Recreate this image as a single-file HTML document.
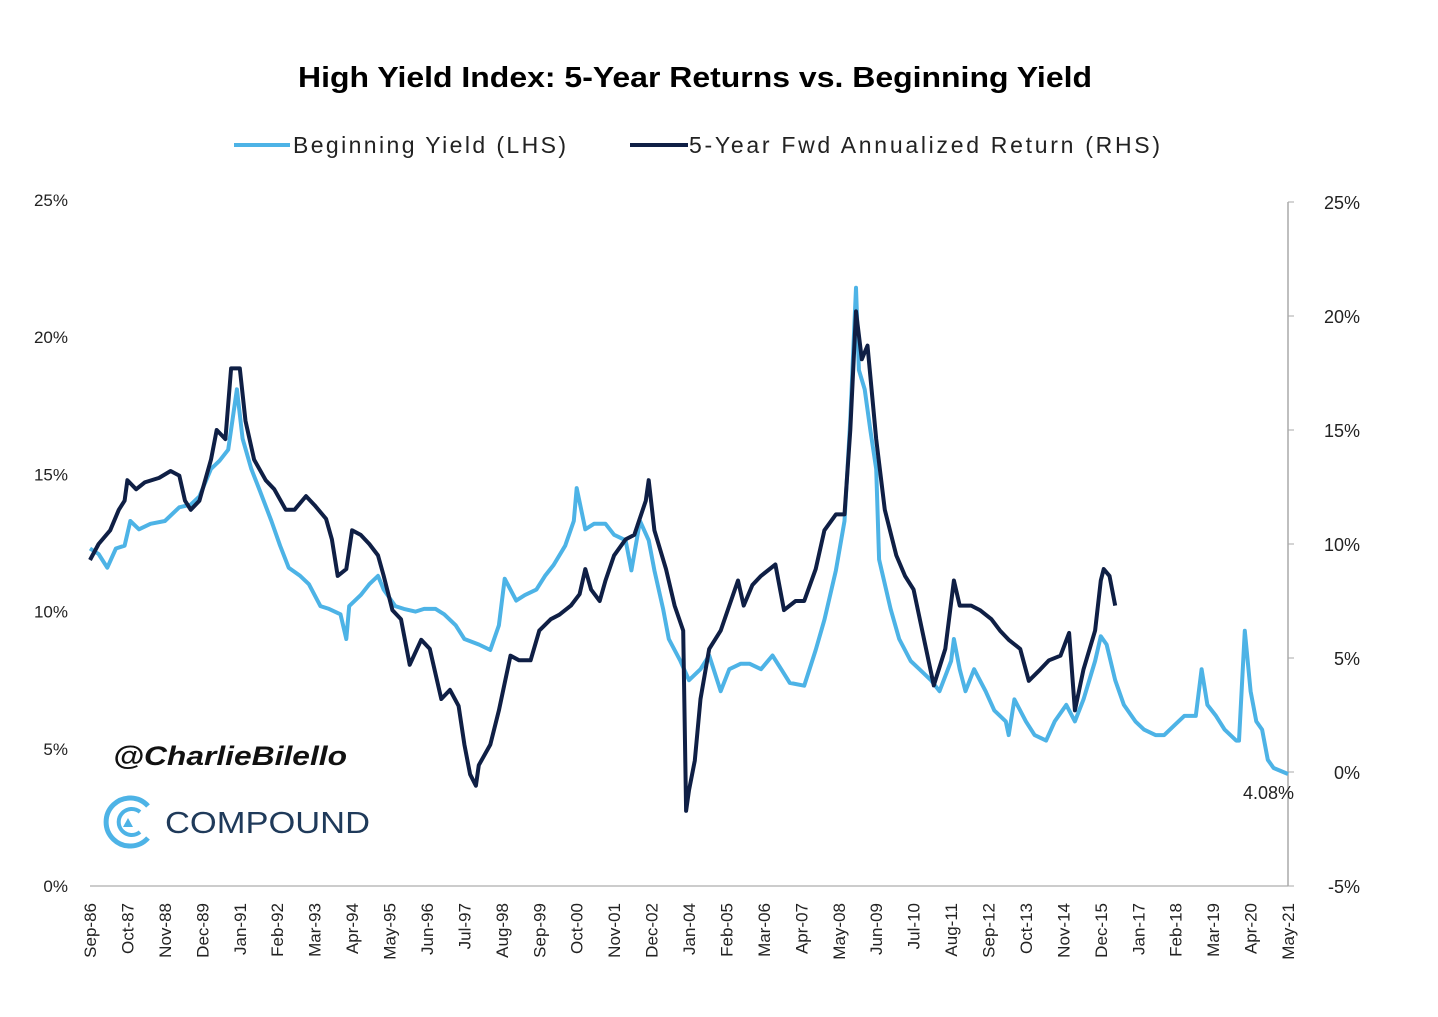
<!DOCTYPE html>
<html><head><meta charset="utf-8"><style>
body{margin:0;background:#fff;font-family:"Liberation Sans",sans-serif}
svg text{font-family:"Liberation Sans",sans-serif}
</style></head><body>
<svg id="chart" width="1438" height="1012" xmlns="http://www.w3.org/2000/svg">
<rect width="1438" height="1012" fill="#fff"/>
<text x="298" y="87" textLength="794" lengthAdjust="spacingAndGlyphs" font-size="29" font-weight="bold" fill="#000">High Yield Index: 5-Year Returns vs. Beginning Yield</text>
<g>
<g><line x1="234" y1="145" x2="290" y2="145" stroke="#4db3e6" stroke-width="4"/><text x="293" y="153" textLength="273" lengthAdjust="spacing" font-size="23" fill="#222">Beginning Yield (LHS)</text></g>
<g><line x1="630" y1="145" x2="688" y2="145" stroke="#0f1f45" stroke-width="4"/><text x="689" y="153" textLength="471" lengthAdjust="spacing" font-size="23" fill="#222">5-Year Fwd Annualized Return (RHS)</text></g>
</g>
<g id="axes"></g>
<g id="series"></g>
<text x="113" y="765" textLength="234" lengthAdjust="spacingAndGlyphs" font-size="27" font-weight="bold" font-style="italic" fill="#111">@CharlieBilello</text>
<g>
<path d="M148 806 A24 24 0 1 0 148 838" fill="none" stroke="#4db3e6" stroke-width="5"/>
<path d="M140 812 A13 13 0 1 0 140 832" fill="none" stroke="#4db3e6" stroke-width="4"/>
<polygon points="128,818 133,827 123,827" fill="#4db3e6"/>
<text x="165" y="833" textLength="205" lengthAdjust="spacingAndGlyphs" font-size="31" fill="#1f3a5a">COMPOUND</text>
</g>
<text x="1243" y="799" font-size="18" fill="#222">4.08%</text>
</svg>
<script>
const xLabels=["Sep-86","Oct-87","Nov-88","Dec-89","Jan-91","Feb-92","Mar-93","Apr-94","May-95","Jun-96","Jul-97","Aug-98","Sep-99","Oct-00","Nov-01","Dec-02","Jan-04","Feb-05","Mar-06","Apr-07","May-08","Jun-09","Jul-10","Aug-11","Sep-12","Oct-13","Nov-14","Dec-15","Jan-17","Feb-18","Mar-19","Apr-20","May-21"];
const leftTicks=[0,5,10,15,20,25];
const rightTicks=[-5,0,5,10,15,20,25];
const yieldMonths=[0,3,6,9,12,14,17,21,26,31,35,38,42,45,48,51,53,56,59,63,66,69,73,76,80,83,87,89,90,94,97,100,102,106,109,113,116,120,123,127,130,135,139,142,144,148,151,155,158,161,165,168,169,172,175,179,182,186,188,191,194,196,199,201,205,208,212,215,219,222,226,229,233,237,240,243,248,252,255,259,262,264,266,267,269,271,273,274,278,281,285,288,292,295,299,300,302,304,307,311,314,318,319,321,325,328,332,335,339,342,345,349,351,353,356,359,363,366,370,373,377,380,384,386,388,391,394,398,399,401,403,405,407,409,411,416];
const yieldValues=[12.3,12.1,11.6,12.3,12.4,13.3,13.0,13.2,13.3,13.8,13.9,14.2,15.2,15.5,15.9,18.1,16.3,15.2,14.4,13.3,12.4,11.6,11.3,11.0,10.2,10.1,9.9,9.0,10.2,10.6,11.0,11.3,10.8,10.2,10.1,10.0,10.1,10.1,9.9,9.5,9.0,8.8,8.6,9.5,11.2,10.4,10.6,10.8,11.3,11.7,12.4,13.3,14.5,13.0,13.2,13.2,12.8,12.6,11.5,13.3,12.6,11.5,10.1,9.0,8.2,7.5,7.9,8.4,7.1,7.9,8.1,8.1,7.9,8.4,7.9,7.4,7.3,8.6,9.7,11.5,13.3,17.0,21.8,18.8,18.1,16.6,15.2,11.9,10.1,9.0,8.2,7.9,7.5,7.1,8.2,9.0,7.9,7.1,7.9,7.1,6.4,6.0,5.5,6.8,6.0,5.5,5.3,6.0,6.6,6.0,6.8,8.2,9.1,8.8,7.5,6.6,6.0,5.7,5.5,5.5,5.9,6.2,6.2,7.9,6.6,6.2,5.7,5.3,5.3,9.3,7.1,6.0,5.7,4.6,4.3,4.08];
const returnMonths=[0,3,7,10,12,13,16,19,24,28,31,33,35,38,42,44,47,49,52,54,57,61,64,68,71,75,78,82,84,86,89,91,94,97,100,102,105,108,111,115,118,122,125,128,130,132,134,135,139,142,146,149,153,156,160,163,167,170,172,174,177,179,182,186,189,193,194,196,200,203,206,207,208,210,212,215,219,222,225,227,230,233,238,241,245,248,252,255,259,262,264,266,268,270,273,276,280,283,286,290,293,297,300,302,306,309,313,316,319,323,326,330,333,337,340,342,345,349,351,352,354,356];
const returnValues=[9.3,10.0,10.6,11.5,11.9,12.8,12.4,12.7,12.9,13.2,13.0,11.9,11.5,11.9,13.7,15.0,14.6,17.7,17.7,15.4,13.7,12.8,12.4,11.5,11.5,12.1,11.7,11.1,10.2,8.6,8.9,10.6,10.4,10.0,9.5,8.6,7.1,6.7,4.7,5.8,5.4,3.2,3.6,2.9,1.2,-0.1,-0.6,0.3,1.2,2.7,5.1,4.9,4.9,6.2,6.7,6.9,7.3,7.8,8.9,8.0,7.5,8.4,9.5,10.2,10.4,11.9,12.8,10.6,8.9,7.3,6.2,-1.7,-0.8,0.5,3.2,5.4,6.2,7.3,8.4,7.3,8.2,8.6,9.1,7.1,7.5,7.5,8.9,10.6,11.3,11.3,15.0,20.2,18.1,18.7,14.6,11.5,9.5,8.6,8.0,5.6,3.8,5.4,8.4,7.3,7.3,7.1,6.7,6.2,5.8,5.4,4.0,4.5,4.9,5.1,6.1,2.7,4.5,6.2,8.4,8.9,8.6,7.3];

const NS="http://www.w3.org/2000/svg";
const X0=90,X1=1288,MONTHS=416;
const xScale=m=>X0+(X1-X0)*m/MONTHS;
const yL=v=>886-(v/25)*(886-200);
const yR=v=>886-((v+5)/30)*(886-202);
function mk(tag,attrs,parent){const e=document.createElementNS(NS,tag);for(const k in attrs)e.setAttribute(k,attrs[k]);parent.appendChild(e);return e;}
const axes=document.getElementById('axes'),series=document.getElementById('series');
const xa=mk('line',{x1:X0,y1:886,x2:X1,y2:886,stroke:'#bbb','stroke-width':1.5},axes);


const ra=mk('line',{x1:X1,y1:202,x2:X1,y2:886,stroke:'#aaa','stroke-width':1.5},axes);


xLabels.forEach((l,i)=>{const x=xScale(i*13);
 const t=mk('text',{x:0,y:0,transform:`translate(${x+6},${903}) rotate(-90)`,'text-anchor':'end','font-size':17,fill:'#222'},axes);
 t.textContent=l;
 
 });
leftTicks.forEach(v=>{const t=mk('text',{x:68,y:yL(v)+6,'text-anchor':'end','font-size':17,fill:'#222'},axes);t.textContent=v+'%';
 
 });
rightTicks.forEach(v=>{const y=yR(v);mk('line',{x1:X1,y1:y,x2:X1+6,y2:y,stroke:'#aaa'},axes);
 const t=mk('text',{x:1360,y:y+7,'text-anchor':'end','font-size':18,fill:'#222'},axes);t.textContent=v+'%';
 
 });
function line(ms,vs,sc,color,name){const d=ms.map((m,i)=>(i?'L':'M')+xScale(m).toFixed(1)+' '+sc(vs[i]).toFixed(1)).join('');
 const p=mk('path',{d,fill:'none',stroke:color,'stroke-width':4,'stroke-linejoin':'round'},series);
 
 }
line(yieldMonths,yieldValues,yL,'#4db3e6','beginning-yield-line');
line(returnMonths,returnValues,yR,'#0f1f45','forward-return-line');
</script>
</body></html>
